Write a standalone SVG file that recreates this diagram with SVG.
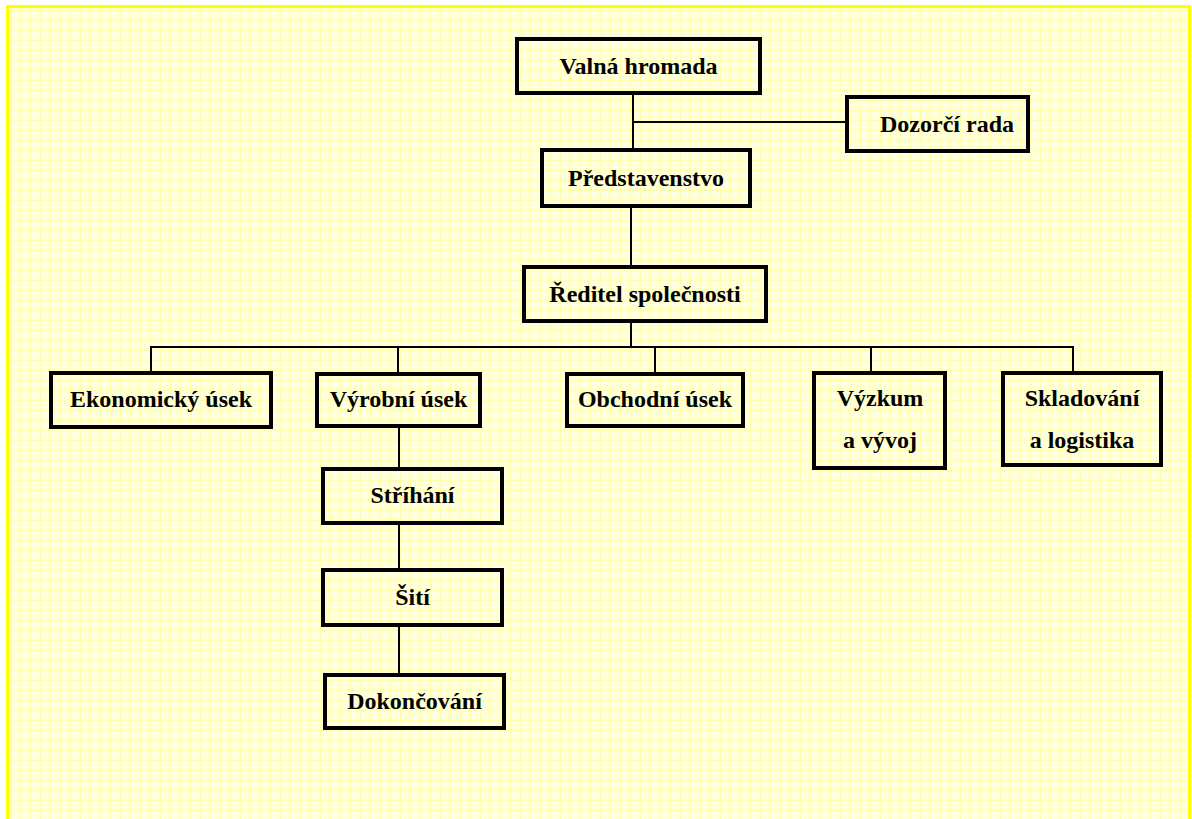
<svg xmlns="http://www.w3.org/2000/svg" width="1192" height="819" viewBox="0 0 1192 819">
  <defs>
    <!-- graph-paper style backdrop -->
    <pattern id="grid" width="10" height="10" patternUnits="userSpaceOnUse">
      <rect width="10" height="10" fill="#FFFFD4"/>
      <path d="M2.5 0V10M5 0V10M7.5 0V10M0 2.5H10M0 5H10M0 7.5H10" stroke="#FFFFEC" stroke-width="0.8" fill="none"/>
      <path d="M0.5 0V10M0 0.5H10" stroke="#FFFFAE" stroke-width="1" fill="none"/>
    </pattern>
  </defs>
  <style>
    .box { fill: none; stroke: #000; stroke-width: 4; }
    .lbl { font-family: "Liberation Serif", "Times New Roman", serif; font-weight: bold; font-size: 24px; fill: #000; text-anchor: middle; }
    .wire { fill: none; stroke: #000; stroke-width: 2; }
  </style>

  <rect width="1192" height="819" fill="#FFFFFF"/>
  <rect x="6" y="5" width="1186" height="814" fill="url(#grid)"/>
  <!-- frame -->
  <path d="M7.5 819V6.5H1189.5V819" fill="none" stroke="#FFFF00" stroke-width="3"/>

  <g id="connectors">
    <path class="wire" d="M633 95V148"/>
    <path class="wire" d="M633 122H846"/>
    <path class="wire" d="M631 208V265"/>
    <path class="wire" d="M631 323V347"/>
    <path class="wire" d="M151 371V347H1073V371"/>
    <path class="wire" d="M398 347V372"/>
    <path class="wire" d="M655 347V372"/>
    <path class="wire" d="M871 347V371"/>
    <path class="wire" d="M399 428V467"/>
    <path class="wire" d="M399 525V568"/>
    <path class="wire" d="M399 627V673"/>
  </g>

  <g id="valna-hromada">
    <rect class="box" x="517" y="39" width="243" height="54"/>
    <text class="lbl" x="638.5" y="74">Valná hromada</text>
  </g>
  <g id="dozorci-rada">
    <rect class="box" x="847" y="97" width="181" height="54"/>
    <text class="lbl" x="947" y="132">Dozorčí rada</text>
  </g>
  <g id="predstavenstvo">
    <rect class="box" x="542" y="150" width="208" height="56"/>
    <text class="lbl" x="646" y="186">Představenstvo</text>
  </g>
  <g id="reditel">
    <rect class="box" x="524" y="267" width="242" height="54"/>
    <text class="lbl" x="645" y="302">Ředitel společnosti</text>
  </g>
  <g id="ekonomicky-usek">
    <rect class="box" x="51" y="373" width="220" height="54"/>
    <text class="lbl" x="161" y="407">Ekonomický úsek</text>
  </g>
  <g id="vyrobni-usek">
    <rect class="box" x="317" y="374" width="163" height="52"/>
    <text class="lbl" x="398.5" y="407">Výrobní úsek</text>
  </g>
  <g id="obchodni-usek">
    <rect class="box" x="567" y="374" width="176" height="52"/>
    <text class="lbl" x="655" y="407">Obchodní úsek</text>
  </g>
  <g id="vyzkum-a-vyvoj">
    <rect class="box" x="814" y="373" width="131" height="95"/>
    <text class="lbl" x="880" y="406">Výzkum</text>
    <text class="lbl" x="880" y="448">a vývoj</text>
  </g>
  <g id="skladovani-a-logistika">
    <rect class="box" x="1003" y="373" width="158" height="92"/>
    <text class="lbl" x="1082" y="406">Skladování</text>
    <text class="lbl" x="1082" y="448">a logistika</text>
  </g>
  <g id="strihani">
    <rect class="box" x="323" y="469" width="179" height="54"/>
    <text class="lbl" x="412.5" y="503">Stříhání</text>
  </g>
  <g id="siti">
    <rect class="box" x="323" y="570" width="179" height="55"/>
    <text class="lbl" x="412.5" y="605">Šití</text>
  </g>
  <g id="dokoncovani">
    <rect class="box" x="325" y="675" width="179" height="53"/>
    <text class="lbl" x="414.5" y="709">Dokončování</text>
  </g>
</svg>
